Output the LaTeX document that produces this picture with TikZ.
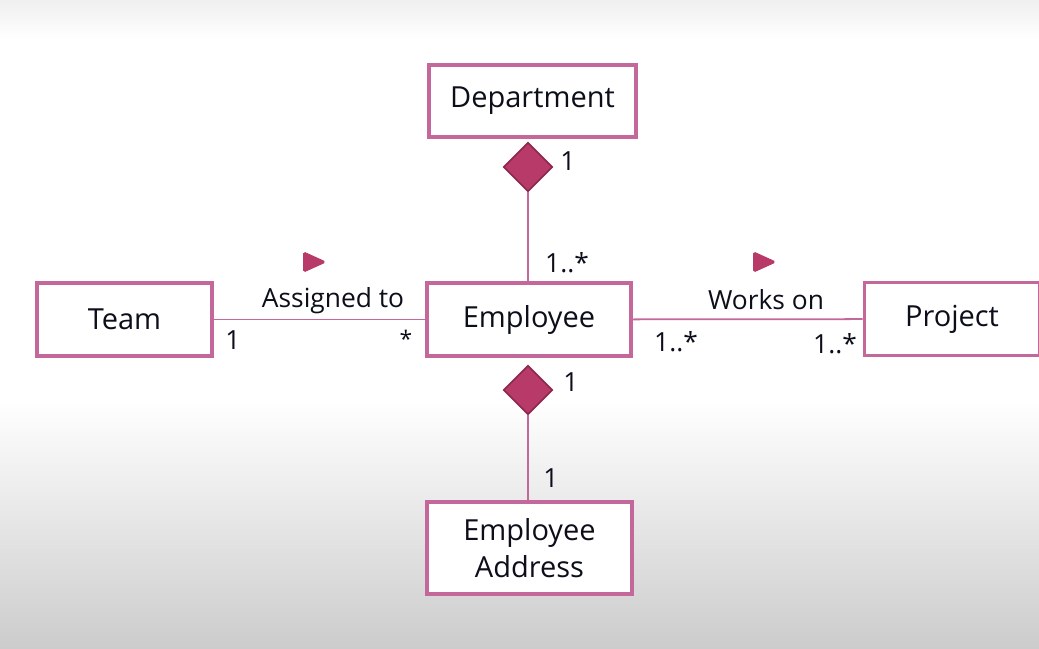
\documentclass[tikz,border=0pt]{standalone}
\usepackage{fontspec}
\setmainfont{Open Sans}
\usetikzlibrary{shapes.geometric,positioning}
\definecolor{umlEdge}{RGB}{196,104,156}
\definecolor{umlGem}{RGB}{184,58,104}
\definecolor{umlGemDark}{RGB}{140,38,78}
\definecolor{umlInk}{RGB}{12,14,26}
\tikzset{umlpanel/.style={
  cls/.style={rectangle, draw=umlEdge, line width=2.2pt, fill=white, text=umlInk, align=center, inner sep=0pt, font=\fontsize{16.5}{21}\selectfont},
  gem/.style={diamond, fill=umlGem, draw=umlGemDark, line width=0.9pt, inner sep=0pt, minimum width=0.98cm, minimum height=0.98cm},
  assoc/.style={draw=umlEdge, line width=1pt},
  mult/.style={text=umlInk, inner sep=0pt, font=\fontsize{15}{18}\selectfont},
}}

\begin{document}
\begin{tikzpicture}[umlpanel, x=0.02cm, y=-0.02cm,
  dirtip/.style={isosceles triangle, isosceles triangle stretches, fill=umlGem, draw=umlGem, line width=0.6pt, rounded corners=1pt, inner sep=0pt, minimum width=0.40cm, minimum height=0.44cm},
]

% =====================================================================
% slide background
% =====================================================================
\clip (0,0) rectangle (1039,649);
\fill[white] (0,0) rectangle (1039,649);
\shade[top color=black!6, bottom color=white] (0,0) rectangle (1039,40);
\shade[top color=white, bottom color=black!20] (0,400) rectangle (1039,649);

% =====================================================================
% classes
% =====================================================================
\node[cls, minimum width=4.14cm, minimum height=1.44cm] (dept) at (532.5,101) {Department};
\node[cls, minimum width=3.50cm, minimum height=1.46cm] (team) at (124.5,319.5) {Team};
\node[cls, minimum width=4.08cm, minimum height=1.46cm] (emp) at (529,319.5) {Employee};
\node[cls, minimum width=3.50cm, minimum height=1.46cm] (proj) at (952,319) {Project};
\node[cls, minimum width=4.10cm, minimum height=1.84cm] (addr) at (529.5,548) {Employee\\Address};

% =====================================================================
% composition diamonds
% =====================================================================
\node[gem] (deptgem) at (528,167) {};
\node[gem] (empgem) at (528,390) {};

% =====================================================================
% associations
% =====================================================================
\draw[assoc] (team) -- (emp);
\draw[assoc] (emp) -- (proj);
\draw[assoc] (deptgem.south) -- (deptgem.south |- emp.north);
\draw[assoc] (empgem.south) -- (empgem.south |- addr.north);

% reading direction
\node[dirtip] (assigndir) at (310,262) {};
\node[dirtip] (worksdir) at (760,262) {};

% =====================================================================
% names and multiplicities
% =====================================================================
\node[mult] (assignlab) at (333,301) {Assigned to};
\node[mult] (workslab) at (766,300) {Works on};
\node[mult] (mdept) at (568,161) {1};
\node[mult] (mempup) at (567,263) {1..*};
\node[mult] (mteam) at (233,340) {1};
\node[mult, font=\fontsize{13}{16}\selectfont] (mempl) at (406,339) {*};
\node[mult] (mempr) at (676,342) {1..*};
\node[mult] (mproj) at (835,344) {1..*};
\node[mult] (mempdn) at (571,382) {1};
\node[mult] (maddr) at (551,478) {1};

\end{tikzpicture}
\end{document}
